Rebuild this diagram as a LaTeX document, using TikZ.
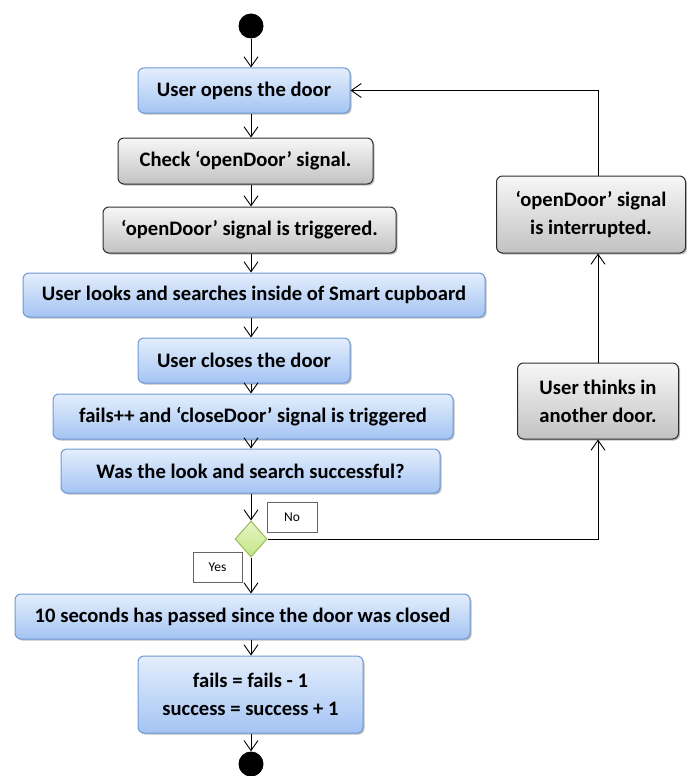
\documentclass[tikz,border=0pt]{standalone}
\usepackage{fontspec}
\setmainfont{Carlito}
\usetikzlibrary{arrows.meta,shapes.geometric,shadows}
\definecolor{bluetop}{HTML}{E4EEFC}
\definecolor{bluebot}{HTML}{A4C4F3}
\definecolor{blueedge}{HTML}{6F9AD6}
\definecolor{graytop}{HTML}{F7F7F7}
\definecolor{graybot}{HTML}{C2C2C2}
\definecolor{grayedge}{HTML}{2E2E2E}
\definecolor{greentop}{HTML}{E4F5C4}
\definecolor{greenbot}{HTML}{C4E686}
\definecolor{greenedge}{HTML}{9BBB59}
\tikzset{
  boxbase/.style={rounded corners=6pt, inner sep=0pt, align=center,
    font=\fontsize{20.6}{28}\selectfont\bfseries, text=black,
    drop shadow={shadow xshift=1.5pt, shadow yshift=-1.5pt, opacity=0.25, fill=black}},
  bluebox/.style={boxbase, draw=blueedge, line width=1pt, top color=bluetop, bottom color=bluebot},
  graybox/.style={boxbase, draw=grayedge, line width=1pt, top color=graytop, bottom color=graybot},
  dot/.style={circle, fill=black, inner sep=0pt, minimum size=25pt},
  labelbox/.style={draw=black!60, fill=white, inner sep=0pt, line width=0.6pt,
    font=\fontsize{13.5}{15}\selectfont},
  arr/.style={draw=black, line width=0.9pt, -{Straight Barb[length=10pt,width=14pt,line width=0.9pt]}},
}
\begin{document}
\begin{tikzpicture}[x=1pt,y=-1pt]
\useasboundingbox (0,0) rectangle (686,776);
\node[dot] (start) at (251,26) {};
\node[bluebox, minimum width=212pt, minimum height=45pt] (b1) at (244,90.5) {User opens the door};
\node[graybox, minimum width=255pt, minimum height=46pt] (b2) at (245.5,161) {Check ‘openDoor’ signal.};
\node[graybox, minimum width=293pt, minimum height=46pt] (b3) at (249.5,230) {‘openDoor’ signal is triggered.};
\node[bluebox, minimum width=462pt, minimum height=44pt] (b4) at (254,295) {User looks and searches inside of Smart cupboard};
\node[bluebox, minimum width=212pt, minimum height=45pt] (b5) at (244,360.5) {User closes the door};
\node[bluebox, minimum width=400pt, minimum height=45pt] (b6) at (253,416.5) {fails++ and ‘closeDoor’ signal is triggered};
\node[bluebox, minimum width=379pt, minimum height=44pt] (b7) at (250.5,471) {Was the look and search successful?};
\node[diamond, draw=greenedge, line width=1pt, top color=greentop, bottom color=greenbot,
      minimum width=32pt, minimum height=36pt, inner sep=0pt] (dia) at (251,539) {};
\node[labelbox, minimum width=50pt, minimum height=30pt] (no) at (292,517) {No};
\node[labelbox, minimum width=49pt, minimum height=30pt] (yes) at (217.5,567) {Yes};
\node[bluebox, minimum width=455pt, minimum height=45pt] (b10) at (242.5,616.5) {10 seconds has passed since the door was closed};
\node[bluebox, minimum width=225pt, minimum height=77pt] (b11) at (250.5,694.5) {fails = fails - 1\\success = success + 1};
\node[dot] (end) at (251,764) {};
\node[graybox, minimum width=161pt, minimum height=76pt] (b9) at (598,401) {User thinks in\\another door.};
\node[graybox, minimum width=189pt, minimum height=77pt] (b8) at (591,214.5) {‘openDoor’ signal\\is interrupted.};
% main flow
\draw[arr] (start) -- (start |- b1.north);
\draw[arr] (start |- b1.south) -- (start |- b2.north);
\draw[arr] (start |- b2.south) -- (start |- b3.north);
\draw[arr] (start |- b3.south) -- (start |- b4.north);
\draw[arr] (start |- b4.south) -- (start |- b5.north);
\draw[arr] (start |- b5.south) -- (start |- b6.north);
\draw[arr] (start |- b6.south) -- (start |- b7.north);
\draw[arr] (start |- b7.south) -- (dia.north);
\draw[arr] (dia.south) -- (start |- b10.north);
\draw[arr] (start |- b10.south) -- (start |- b11.north);
\draw[arr] (start |- b11.south) -- (end.north);
% loop back
\draw[arr] (dia.east) -| (b9.south);
\draw[arr] (b9.north) -- (b9.north |- b8.south);
\draw[arr] (b9.north |- b8.north) |- (b1.east);
\end{tikzpicture}
\end{document}
